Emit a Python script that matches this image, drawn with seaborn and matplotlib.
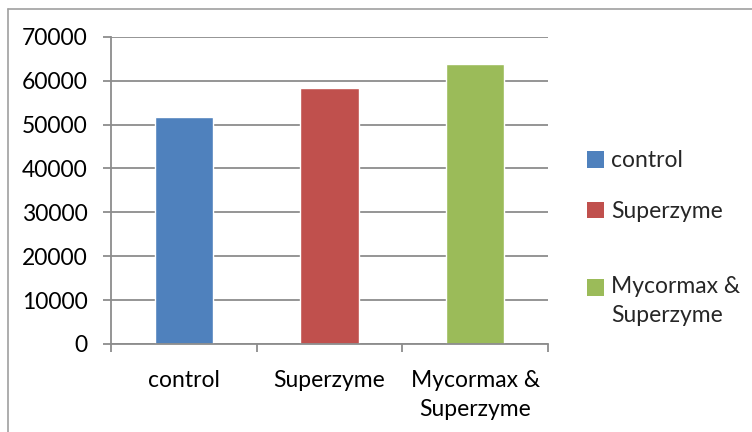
import matplotlib
matplotlib.use("Agg")
import matplotlib.pyplot as plt
import seaborn as sns
import pandas as pd
from matplotlib.lines import Line2D
from matplotlib.patches import Patch

categories = ["control", "Superzyme", "Mycormax &\nSuperzyme"]
values = [51800, 58300, 63700]
colors = ["#4F81BD", "#C0504D", "#9BBB59"]
yticks = [0, 10000, 20000, 30000, 40000, 50000, 60000, 70000]

sns.set_theme(style="white")
plt.rcParams["font.family"] = ["Lato", "DejaVu Sans"]
FS = 16.5

df = pd.DataFrame({"cat": categories, "val": values})

fig = plt.figure(figsize=(7.52, 4.32), dpi=100)
ax = fig.add_axes([111/752, 1-344/432, (548-111)/752, (344-36.7)/432])

sns.barplot(data=df, x="cat", y="val", hue="cat", palette=colors, width=0.4,
            dodge=False, legend=False, ax=ax, saturation=1)

ax.set_ylim(0, 70000)
ax.set_xlim(-0.5, 2.5)
ax.set_yticks(yticks)
ax.set_yticklabels([str(v) for v in yticks], fontsize=FS, color="black")
ax.yaxis.grid(True, color="#8C8C8C", linewidth=1.3)
ax.set_axisbelow(True)
ax.set_xlabel("")
ax.set_ylabel("")

ax.set_xticks([0, 1, 2])
ax.set_xticklabels(categories, fontsize=FS, color="black", linespacing=1.45)
ax.set_xticks([-0.5, 0.5, 1.5, 2.5], minor=True)
ax.tick_params(axis="x", which="major", length=0, pad=19)
ax.tick_params(axis="x", which="minor", length=6, width=1.3, color="#8C8C8C", direction="out", bottom=True)
ax.tick_params(axis="y", length=6, width=1.3, color="#8C8C8C", direction="out", left=True, pad=11)

for s in ["top", "right"]:
    ax.spines[s].set_visible(False)
for s in ["left", "bottom"]:
    ax.spines[s].set_color("#8C8C8C")
    ax.spines[s].set_linewidth(1.3)

handles = [Patch(facecolor=c, edgecolor="none") for c in colors]
common = dict(frameon=False, fontsize=FS, handlelength=0.75, handleheight=0.75,
              handletextpad=0.3, borderaxespad=0, borderpad=0)
leg1 = fig.legend(handles[:2], categories[:2], loc="center left",
                  bbox_to_anchor=(587/752, 1-186/432), labelspacing=1.3, **common)
leg2 = fig.legend(handles[2:], categories[2:], loc="center left",
                  bbox_to_anchor=(587/752, 1-301/432), **common)
for t in leg2.get_texts():
    t.set_linespacing(1.45)
h = leg2.legend_handles[0]
h.set_y(h.get_y() + 10)

# outer chart border
fig.add_artist(Line2D([8/752, 8/752], [0, 1-9/432], transform=fig.transFigure, color="#A0A0A0", lw=1.2))
fig.add_artist(Line2D([8/752, 1], [1-9/432, 1-9/432], transform=fig.transFigure, color="#A0A0A0", lw=1.2))

fig.savefig("out.png", dpi=100)
